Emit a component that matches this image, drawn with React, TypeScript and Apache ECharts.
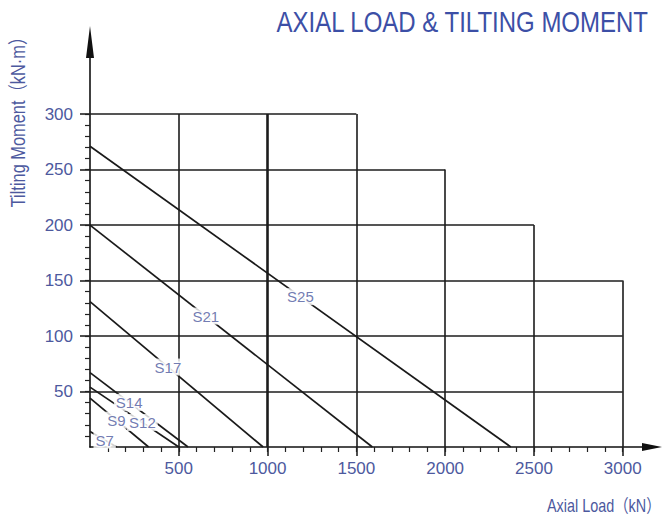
import React, { useEffect, useRef } from 'react';
import * as echarts from 'echarts';

// Bearing capacity curves: tilting moment at zero axial load, axial load at zero moment
const bearingNames = ['S7', 'S9', 'S12', 'S14', 'S17', 'S21', 'S25'];
const momentAtZeroLoad = [14, 44, 54, 67, 131, 200, 271]; // kN·m
const loadAtZeroMoment = [150, 330, 500, 552, 975, 1590, 2370]; // kN

// Tick labels
const xTickValues = [500, 1000, 1500, 2000, 2500, 3000];
const yTickValues = [50, 100, 150, 200, 250, 300];
// Stepped grid: extent of each horizontal line (at yTickValues) and vertical line (at xTickValues)
const hGridEnd = [3000, 3000, 3000, 2500, 2000, 1500];
const vGridEnd = [300, 300, 300, 250, 200, 150];

const xMinor = Array.from({ length: 30 }, (_, i) => (i + 1) * 100);
const yMinor = Array.from({ length: 30 }, (_, i) => (i + 1) * 10);

// fraction along each curve where its name sits (styling)
const labelAlong = [0.55, 0.45, 0.59, 0.4, 0.45, 0.41, 0.5];

const FONT = "'Liberation Sans', Arial, 'Noto Sans CJK SC', sans-serif";
const BLUE = '#3c4fa6';
const LABEL_BLUE = '#4d599e';
const X_MAX = 3165;
const Y_MAX = 365;

export default function App() {
  const ref = useRef<HTMLDivElement>(null);
  useEffect(() => {
    if (!ref.current) return;
    const chart = echarts.init(ref.current, undefined, { renderer: 'svg' });

    const gridLines: any[] = [];
    yTickValues.forEach((y, i) => {
      gridLines.push({ coords: [[0, y], [hGridEnd[i], y]], lineStyle: { width: 1.6 } });
    });
    xTickValues.forEach((x, i) => {
      gridLines.push({ coords: [[x, 0], [x, vGridEnd[i]]], lineStyle: { width: x === 1000 ? 2.6 : 1.6 } });
    });

    const curveSeries = bearingNames.map((name, i) => ({
      type: 'line',
      name,
      xAxisIndex: 0,
      yAxisIndex: 0,
      data: [[0, momentAtZeroLoad[i]], [loadAtZeroMoment[i], 0]],
      showSymbol: false,
      symbol: 'none',
      lineStyle: { color: '#1a1a1a', width: 1.7 },
      z: 3,
      silent: true,
    }));

    const plain = (v: number) => String(v);

    const option: any = {
      animation: false,
      backgroundColor: '#ffffff',
      grid: { left: 90, right: 10, top: 42, bottom: 73, containLabel: false },
      xAxis: [
        {
          type: 'value', min: 0, max: X_MAX, position: 'bottom',
          axisLine: { show: true, symbol: ['none', 'triangle'], symbolSize: [8, 20], lineStyle: { color: '#111', width: 1.6 } },
          axisTick: { show: true, customValues: xMinor, length: 5, lineStyle: { color: '#222', width: 1.2 } },
          axisLabel: { show: false },
          splitLine: { show: false },
        },
        {
          type: 'value', min: 0, max: X_MAX, position: 'bottom', offset: 0,
          axisLine: { show: false },
          axisTick: { show: true, customValues: xTickValues, length: 9, lineStyle: { color: '#222', width: 1.6 } },
          axisLabel: { customValues: xTickValues, formatter: plain, margin: 13, color: LABEL_BLUE, fontSize: 17, fontFamily: FONT },
          splitLine: { show: false },
        },
      ],
      yAxis: [
        {
          type: 'value', min: 0, max: Y_MAX, position: 'left',
          axisLine: { show: true, symbol: ['none', 'triangle'], symbolSize: [8, 32], lineStyle: { color: '#111', width: 1.6 } },
          axisTick: { show: true, customValues: yMinor, length: 5, lineStyle: { color: '#222', width: 1.2 } },
          axisLabel: { show: false },
          splitLine: { show: false },
        },
        {
          type: 'value', min: 0, max: Y_MAX, position: 'left', offset: 0,
          axisLine: { show: false },
          axisTick: { show: true, customValues: yTickValues, length: 10, lineStyle: { color: '#222', width: 1.6 } },
          axisLabel: { customValues: yTickValues, formatter: plain, margin: 17, color: LABEL_BLUE, fontSize: 17, fontFamily: FONT },
          splitLine: { show: false },
        },
      ],
      graphic: [
        {
          type: 'text', x: 648, y: 22, scaleX: 0.8,
          style: { text: 'AXIAL LOAD & TILTING MOMENT', align: 'right', verticalAlign: 'middle', fill: BLUE, fontSize: 30, fontFamily: FONT },
        },
        {
          type: 'text', x: 18, y: 118, rotation: Math.PI / 2, scaleX: 0.82,
          style: { text: 'Tilting Moment（kN·m）', align: 'center', verticalAlign: 'middle', fill: LABEL_BLUE, fontSize: 20, fontFamily: FONT },
        },
        {
          type: 'text', x: 547, y: 505, scaleX: 0.8,
          style: { text: 'Axial Load（kN）', align: 'left', verticalAlign: 'middle', fill: LABEL_BLUE, fontSize: 18, fontFamily: FONT },
        },
      ],
      series: [
        {
          type: 'lines',
          coordinateSystem: 'cartesian2d',
          xAxisIndex: 0, yAxisIndex: 0,
          polyline: false,
          lineStyle: { color: '#1c1c1c', width: 1.6, opacity: 1 },
          data: gridLines,
          z: 2,
          silent: true,
        },
        ...curveSeries,
        {
          type: 'scatter',
          xAxisIndex: 0, yAxisIndex: 0,
          symbolSize: 1,
          itemStyle: { color: 'rgba(0,0,0,0)' },
          z: 10,
          zlevel: 1,
          silent: true,
          data: bearingNames.map((name, i) => ({
            name,
            value: [loadAtZeroMoment[i] * labelAlong[i], momentAtZeroLoad[i] * (1 - labelAlong[i])],
          })),
          label: {
            show: true, position: 'inside', formatter: '{b}',
            color: '#4d599e', fontSize: 15, fontFamily: FONT,
            backgroundColor: '#ffffff', padding: [1, 2],
            textBorderColor: '#ffffff', textBorderWidth: 3,
          },
        },
      ],
    };
    chart.setOption(option);
    return () => chart.dispose();
  }, []);
  return (
    <div
      ref={ref}
      style={{ position: 'fixed', left: 0, top: 0, width: 662, height: 520, background: '#fff' }}
    />
  );
}
